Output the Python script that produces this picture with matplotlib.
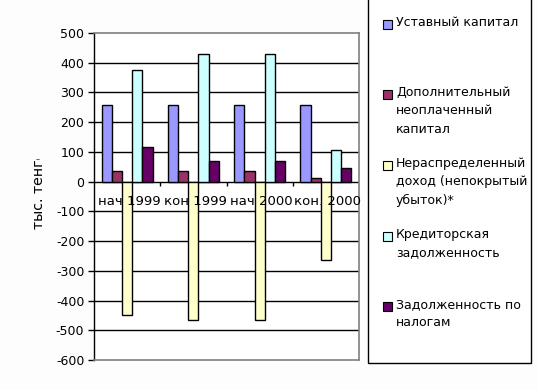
import numpy as np
import matplotlib
matplotlib.use("Agg")
import matplotlib.pyplot as plt
from matplotlib.patches import Rectangle
from matplotlib.transforms import Bbox, TransformedBbox

# -----------------------
# Data
# -----------------------
categories = ["нач 1999", "кон 1999", "нач 2000", "кон. 2000"]
series_names = [
    "Уставный капитал",
    "Дополнительный\nнеоплаченный\nкапитал",
    "Нераспределенный\nдоход (непокрытый\nубыток)*",
    "Кредиторская\nзадолженность",
    "Задолженность по\nналогам",
]
ustavny = [258, 258, 258, 258]
dop_kapital = [35, 35, 35, 12]
neraspred = [-450, -465, -465, -265]
kreditor = [375, 430, 430, 105]
nalogi = [115, 70, 70, 45]
series = [ustavny, dop_kapital, neraspred, kreditor, nalogi]
colors = ["#9999FF", "#993366", "#FFFFCC", "#CCFFFF", "#660066"]
yticks = np.arange(-600, 501, 100)

W, H = 538, 390
fig = plt.figure(figsize=(W / 100, H / 100), dpi=100)
fig.patch.set_facecolor("#fdfdfd")
plt.rcParams['font.family'] = ['DejaVu Sans']
fs = 9

ax = fig.add_axes([94 / W, (H - 360) / H, 265 / W, 327 / H])
ax.set_facecolor("white")

# -----------------------
# Bars
# -----------------------
n = len(series)
bw = 1.0 / (n + 1.5)
x = np.arange(len(categories))
for i, (vals, c) in enumerate(zip(series, colors)):
    offs = (i - (n - 1) / 2) * bw
    ax.bar(x + offs, vals, width=bw, color=c, edgecolor="black",
           linewidth=1, zorder=3)

ax.set_xlim(-0.5, len(categories) - 0.5)
ax.set_ylim(-600, 500)
ax.set_yticks(yticks)
ax.set_yticklabels([str(v) for v in yticks], fontsize=fs)
ax.tick_params(axis="y", length=4, width=1, pad=3, color="black")
ax.set_xticks([])

for v in yticks[1:-1]:
    ax.axhline(v, color="black", lw=1, zorder=1)

for s in ["top", "right", "bottom"]:
    ax.spines[s].set_color("#808080")
    ax.spines[s].set_linewidth(1.2)
ax.spines["left"].set_color("black")
ax.spines["left"].set_linewidth(1)

# tick marks between categories on the zero line
tick_len = 4 * 1100 / 327
ax.vlines(x[:-1] + 0.5, -tick_len, 0, color="black", lw=1, zorder=1)

# category labels just below zero, drawn over the bars
for xi, lab in zip(x, categories):
    ax.text(xi + 0.03, -20 * 1100 / 327, lab, ha="center", va="center",
            fontsize=fs + 0.5, zorder=4)

# y label, partly hidden like in the original
yl = fig.text(39 / W, (H - 229) / H, "тыс. тенге", rotation=90,
              ha="center", va="bottom", fontsize=10.2)
yl.set_clip_on(True)
yl.set_clip_box(TransformedBbox(Bbox([[0, 0], [0.15, (H - 159) / H]]),
                                fig.transFigure))

# -----------------------
# Legend box (drawn by hand)
# -----------------------
fig.patches.append(Rectangle((368 / W, (H - 363) / H), 163 / W, 366 / H,
                             transform=fig.transFigure, facecolor="white",
                             edgecolor="black", lw=1, zorder=0))
first_line_y = [24, 94, 165, 236, 306]
for name, c, yy in zip(series_names, colors, first_line_y):
    fig.patches.append(Rectangle((383 / W, (H - yy - 5) / H), 9 / W, 9 / H,
                                 transform=fig.transFigure, facecolor=c,
                                 edgecolor="black", lw=0.8))
    fig.text(396 / W, (H - yy + 8) / H, name, ha="left", va="top",
             fontsize=fs, linespacing=1.55)

fig.savefig("out.png", dpi=100, facecolor=fig.get_facecolor())
